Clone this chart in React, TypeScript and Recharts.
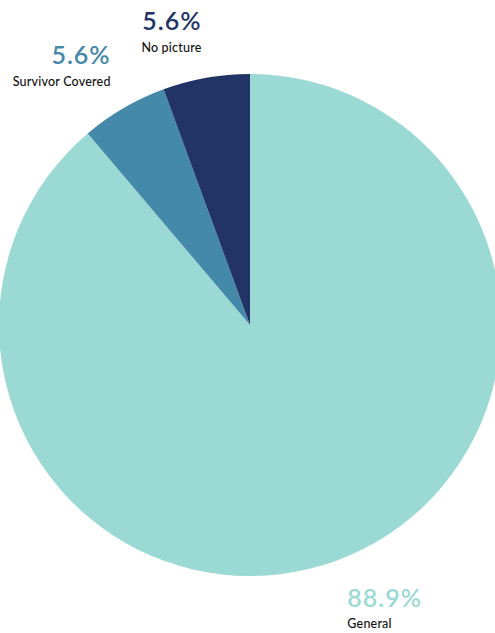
import React from "react";
import { PieChart, Pie, Cell } from "recharts";

const categories = ["General", "Survivor Covered", "No picture"];
const percents = [88.9, 5.6, 5.6];
const colors = ["#9BD9D4", "#4488AA", "#223366"];

const data = categories.map((name, i) => ({ name, value: percents[i] }));

const RADIAN = Math.PI / 180;

const renderLabel = (props: any) => {
  const { cx, cy, midAngle, outerRadius, index } = props;
  const r = outerRadius + 26;
  const x = cx + r * Math.cos(-midAngle * RADIAN);
  const y = cy + r * Math.sin(-midAngle * RADIAN);
  const right = x > cx;
  const anchor = right ? "start" : "end";
  const xx = right ? x + 2 : x;
  const pct = `${percents[index].toFixed(1)}%`;
  const name = categories[index];
  const font = "Lato, 'Open Sans', sans-serif";
  const pctY = y < cy ? y - 22 : y + 22;
  const nameY = y < cy ? y : y + 43;
  return (
    <g>
      <text x={xx} y={pctY} textAnchor={anchor} fill={colors[index]} fontSize={25} fontFamily={font} fontWeight={600} letterSpacing={1}>
        {pct}
      </text>
      <text x={xx} y={nameY} textAnchor={anchor} fill="#111" fontSize={12.5} fontFamily={font} fontWeight={500} letterSpacing={0.2}>
        {name}
      </text>
    </g>
  );
};

export default function App() {
  return (
    <div style={{ position: "absolute", left: 0, top: 0 }}>
      <PieChart width={495} height={633} margin={{ top: 0, right: 0, bottom: 0, left: 0 }}>
        <Pie
          data={data}
          dataKey="value"
          nameKey="name"
          cx={250}
          cy={325}
          outerRadius={251}
          innerRadius={0}
          startAngle={90}
          endAngle={-270}
          stroke="none"
          label={renderLabel}
          labelLine={false}
          isAnimationActive={false}
        >
          {data.map((d, i) => (
            <Cell key={d.name} fill={colors[i]} />
          ))}
        </Pie>
      </PieChart>
    </div>
  );
}
